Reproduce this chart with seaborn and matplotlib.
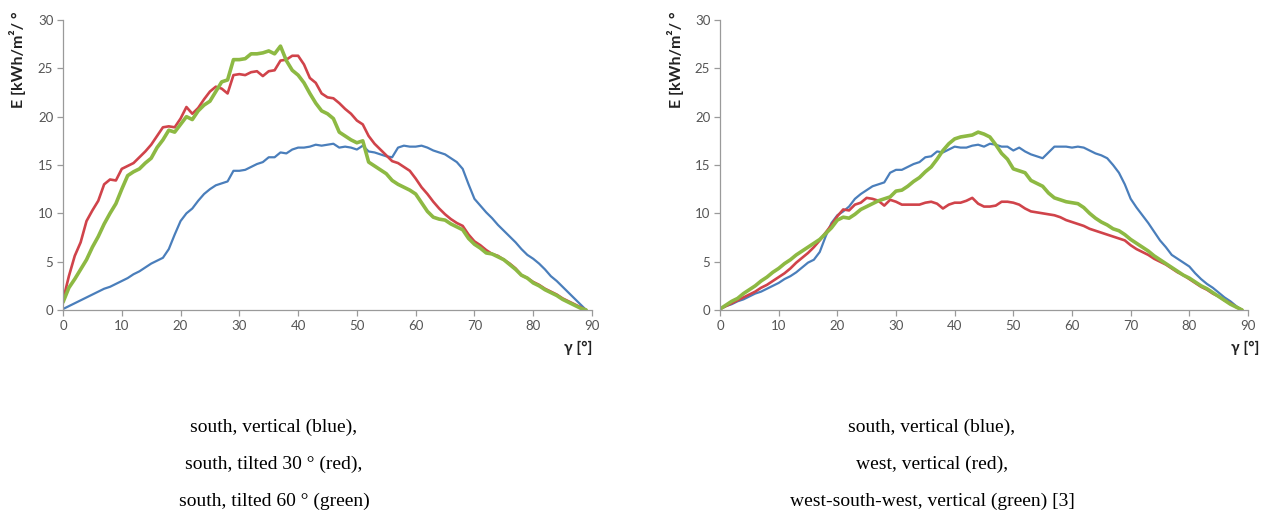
import numpy as np
import pandas as pd
import matplotlib
matplotlib.use("Agg")
import matplotlib.pyplot as plt
import seaborn as sns

# Sun elevation angle gamma [deg], 0..89
gamma = list(range(90))

# Left panel: south-facing surfaces
south_vertical_a = [0.1, 0.4, 0.7, 1.0, 1.3, 1.6, 1.9, 2.2, 2.4, 2.7,
                    3.0, 3.3, 3.7, 4.0, 4.4, 4.8, 5.1, 5.4, 6.3, 7.8,
                    9.2, 10.0, 10.5, 11.3, 12.0, 12.5, 12.9, 13.1, 13.3, 14.4,
                    14.4, 14.5, 14.8, 15.1, 15.3, 15.8, 15.8, 16.3, 16.2, 16.6,
                    16.8, 16.8, 16.9, 17.1, 17.0, 17.1, 17.2, 16.8, 16.9, 16.8,
                    16.6, 17.0, 16.4, 16.3, 16.1, 15.9, 15.8, 16.8, 17.0, 16.9,
                    16.9, 17.0, 16.8, 16.5, 16.3, 16.1, 15.7, 15.3, 14.6, 13.0,
                    11.5, 10.8, 10.1, 9.5, 8.8, 8.2, 7.6, 7.0, 6.3, 5.7,
                    5.3, 4.8, 4.2, 3.5, 3.0, 2.4, 1.8, 1.2, 0.6, 0.0]
south_tilt30 = [1.0, 3.5, 5.6, 7.0, 9.2, 10.3, 11.3, 13.0, 13.5, 13.4,
                14.6, 14.9, 15.2, 15.8, 16.4, 17.1, 18.0, 18.9, 19.0, 18.9,
                19.8, 21.0, 20.3, 20.9, 21.8, 22.6, 23.1, 22.9, 22.4, 24.3,
                24.4, 24.3, 24.6, 24.7, 24.2, 24.7, 24.8, 25.8, 25.9, 26.3,
                26.3, 25.4, 24.0, 23.5, 22.4, 22.0, 21.9, 21.4, 20.8, 20.3,
                19.6, 19.2, 18.0, 17.2, 16.6, 16.0, 15.4, 15.2, 14.8, 14.4,
                13.6, 12.7, 12.0, 11.2, 10.5, 9.9, 9.4, 9.0, 8.7, 7.8,
                7.1, 6.7, 6.2, 5.8, 5.6, 5.2, 4.8, 4.3, 3.6, 3.3,
                2.9, 2.6, 2.2, 1.9, 1.6, 1.2, 0.9, 0.6, 0.3, 0.0]
south_tilt60 = [0.8, 2.3, 3.2, 4.2, 5.2, 6.5, 7.6, 8.9, 10.0, 11.0,
                12.5, 13.9, 14.3, 14.6, 15.2, 15.7, 16.8, 17.6, 18.6, 18.4,
                19.2, 20.0, 19.7, 20.6, 21.2, 21.6, 22.6, 23.6, 23.8, 25.9,
                25.9, 26.0, 26.5, 26.5, 26.6, 26.8, 26.5, 27.3, 25.8, 24.8,
                24.3, 23.5, 22.4, 21.4, 20.6, 20.3, 19.8, 18.4, 18.0, 17.6,
                17.3, 17.5, 15.3, 14.9, 14.5, 14.1, 13.4, 13.0, 12.7, 12.4,
                12.0, 11.1, 10.2, 9.6, 9.4, 9.3, 8.9, 8.6, 8.3, 7.4,
                6.8, 6.4, 5.9, 5.8, 5.5, 5.2, 4.7, 4.2, 3.6, 3.3,
                2.8, 2.5, 2.1, 1.8, 1.5, 1.1, 0.8, 0.5, 0.2, 0.0]

# Right panel: vertical surfaces of different orientation
south_vertical_b = [0.1, 0.4, 0.6, 0.9, 1.1, 1.4, 1.7, 1.9, 2.2, 2.5,
                    2.8, 3.2, 3.5, 3.9, 4.4, 4.9, 5.2, 6.0, 7.6, 9.0,
                    9.8, 10.2, 10.7, 11.5, 12.0, 12.4, 12.8, 13.0, 13.2, 14.2,
                    14.5, 14.5, 14.8, 15.1, 15.3, 15.8, 15.9, 16.4, 16.3, 16.6,
                    16.9, 16.8, 16.8, 17.0, 17.1, 16.9, 17.2, 17.1, 16.9, 16.9,
                    16.5, 16.8, 16.4, 16.1, 15.9, 15.7, 16.3, 16.9, 16.9, 16.9,
                    16.8, 16.9, 16.8, 16.5, 16.2, 16.0, 15.7, 15.0, 14.2, 13.0,
                    11.5, 10.6, 9.8, 9.0, 8.1, 7.2, 6.5, 5.7, 5.3, 4.9,
                    4.5, 3.8, 3.2, 2.7, 2.3, 1.8, 1.3, 0.9, 0.4, 0.0]
west_vertical = [0.1, 0.4, 0.7, 1.0, 1.3, 1.6, 1.9, 2.3, 2.6, 3.0,
                 3.4, 3.8, 4.3, 4.9, 5.4, 5.9, 6.5, 7.2, 8.0, 8.8,
                 9.7, 10.4, 10.3, 10.9, 11.1, 11.6, 11.5, 11.3, 10.8, 11.4,
                 11.2, 10.9, 10.9, 10.9, 10.9, 11.1, 11.2, 11.0, 10.5, 10.9,
                 11.1, 11.1, 11.3, 11.6, 11.0, 10.7, 10.7, 10.8, 11.2, 11.2,
                 11.1, 10.9, 10.5, 10.2, 10.1, 10.0, 9.9, 9.8, 9.6, 9.3,
                 9.1, 8.9, 8.7, 8.4, 8.2, 8.0, 7.8, 7.6, 7.4, 7.2,
                 6.7, 6.3, 6.0, 5.7, 5.3, 5.0, 4.7, 4.3, 3.9, 3.6,
                 3.2, 2.8, 2.4, 2.1, 1.7, 1.4, 1.0, 0.7, 0.3, 0.0]
wsw_vertical = [0.1, 0.5, 0.9, 1.2, 1.7, 2.1, 2.5, 3.0, 3.4, 3.9,
                4.3, 4.8, 5.2, 5.7, 6.1, 6.5, 6.9, 7.3, 7.9, 8.5,
                9.3, 9.6, 9.5, 9.9, 10.4, 10.7, 11.0, 11.3, 11.5, 11.7,
                12.3, 12.4, 12.8, 13.3, 13.7, 14.3, 14.8, 15.6, 16.5, 17.2,
                17.7, 17.9, 18.0, 18.1, 18.4, 18.2, 17.9, 17.1, 16.2, 15.6,
                14.6, 14.4, 14.2, 13.4, 13.1, 12.8, 12.1, 11.6, 11.4, 11.2,
                11.1, 11.0, 10.6, 10.0, 9.5, 9.1, 8.8, 8.4, 8.2, 7.8,
                7.3, 6.9, 6.5, 6.1, 5.6, 5.2, 4.8, 4.4, 4.0, 3.6,
                3.3, 2.9, 2.5, 2.2, 1.8, 1.4, 1.0, 0.6, 0.3, 0.0]

x_ticks = [0, 10, 20, 30, 40, 50, 60, 70, 80, 90]
y_ticks = [0, 5, 10, 15, 20, 25, 30]

captions_left = ["south, vertical (blue),",
                 "south, tilted 30 ° (red),",
                 "south, tilted 60 ° (green)"]
captions_right = ["south, vertical (blue),",
                  "west, vertical (red),",
                  "west-south-west, vertical (green) [3]"]

BLUE = "#4A7EBB"
RED = "#D0434A"
GREEN = "#8DB943"

sns.set_theme(style="white")
plt.rcParams["font.family"] = ["Lato", "DejaVu Sans"]

fig = plt.figure(figsize=(12.61, 5.26), dpi=100)
ax_l = fig.add_axes([63 / 1261, 1 - 310 / 526, 529 / 1261, 290 / 526])
ax_r = fig.add_axes([720 / 1261, 1 - 310 / 526, 528 / 1261, 290 / 526])

panels = [
    (ax_l, [(south_vertical_a, BLUE, 1.6),
            (south_tilt30, RED, 1.9),
            (south_tilt60, GREEN, 2.6)]),
    (ax_r, [(south_vertical_b, BLUE, 1.6),
            (west_vertical, RED, 1.9),
            (wsw_vertical, GREEN, 2.6)]),
]

for ax, series in panels:
    for values, color, lw in series:
        df = pd.DataFrame({"gamma": gamma, "E": values})
        sns.lineplot(data=df, x="gamma", y="E", ax=ax, color=color,
                     linewidth=lw, legend=False)
    ax.set_xlim(0, 90)
    ax.set_ylim(0, 30)
    ax.set_xticks(x_ticks)
    ax.set_yticks(y_ticks)
    ax.set_xlabel("")
    ax.set_ylabel("")
    for side in ("top", "right"):
        ax.spines[side].set_visible(False)
    for side in ("left", "bottom"):
        ax.spines[side].set_color("#9a9a9a")
        ax.spines[side].set_linewidth(0.9)
    ax.tick_params(axis="both", which="major", direction="out", length=4,
                   width=0.9, color="#9a9a9a", labelsize=9.5,
                   labelcolor="#555555", bottom=True, left=True, pad=3)
    ax.grid(False)

# Axis titles
for xpos in (18, 676):
    fig.text(xpos / 1261, 1 - 12 / 526, "E [kWh/m²/ °", rotation=90,
             ha="center", va="top", fontsize=11.5, fontweight="bold",
             color="#222222")
for xpos in (578, 1245):
    fig.text(xpos / 1261, 1 - 348 / 526, "γ [°]", ha="center", va="center",
             fontsize=11, fontweight="bold", color="#222222")

# Captions below the panels
line_y = [427, 464, 501]
for cx, lines in ((274, captions_left), (932, captions_right)):
    for y, txt in zip(line_y, lines):
        fig.text(cx / 1261, 1 - y / 526, txt, ha="center", va="center",
                 fontsize=14, family="Liberation Serif", color="black")

fig.savefig("out.png", dpi=100)
